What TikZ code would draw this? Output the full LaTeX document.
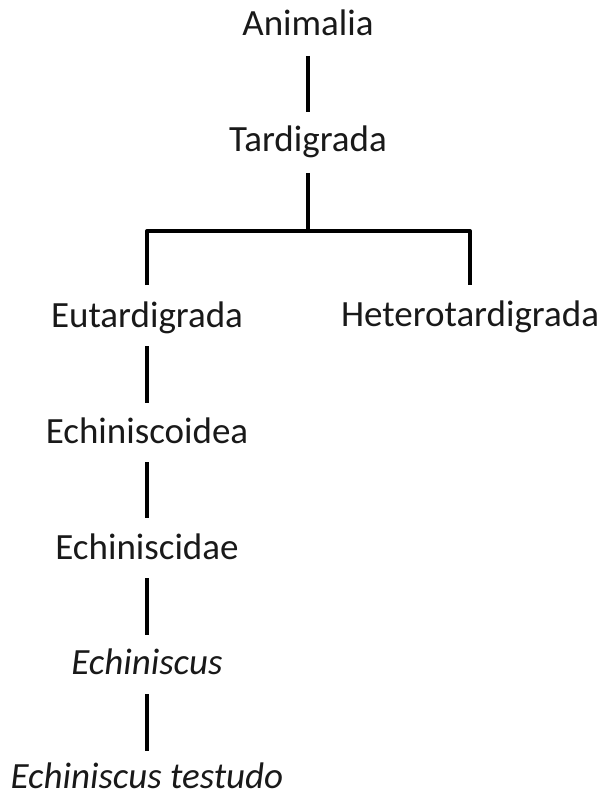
\documentclass[tikz,border=0pt]{standalone}
\usepackage{fontspec}
\setmainfont{Carlito}
\begin{document}
\begin{tikzpicture}[x=1pt,y=-1pt,
  taxon/.style={anchor=base,inner sep=0pt,font=\fontsize{37}{44}\selectfont,text=black!90},
  link/.style={line width=4pt,black,line join=round}]
\useasboundingbox (0,0) rectangle (606,794);
\node[taxon] (anim) at (308,36) {Animalia};
\node[taxon] (tard) at (308,152) {Tardigrada};
\node[taxon] (eut) at (147,327) {Eutardigrada};
\node[taxon] (het) at (470,326) {Heterotardigrada};
\node[taxon] (eco) at (147,443) {Echiniscoidea};
\node[taxon] (ecd) at (147,559) {Echiniscidae};
\node[taxon] (ecs) at (147,674) {\itshape Echiniscus};
\node[taxon] (ect) at (147,788) {\itshape Echiniscus testudo};
\coordinate (j) at (308,231);
\draw[link] ([yshift=-20pt]anim.base) -- ([yshift=40pt]tard.base);
\draw[link] ([yshift=-21pt]tard.base) -- (j);
\draw[link] ([yshift=42pt]eut.base) |- (j) -| ([yshift=41pt]het.base);
\draw[link] ([yshift=-19pt]eut.base) -- ([yshift=40pt]eco.base);
\draw[link] ([yshift=-19pt]eco.base) -- ([yshift=41pt]ecd.base);
\draw[link] ([yshift=-19pt]ecd.base) -- ([yshift=39pt]ecs.base);
\draw[link] ([yshift=-20pt]ecs.base) -- ([yshift=37pt]ect.base);
\end{tikzpicture}
\end{document}
